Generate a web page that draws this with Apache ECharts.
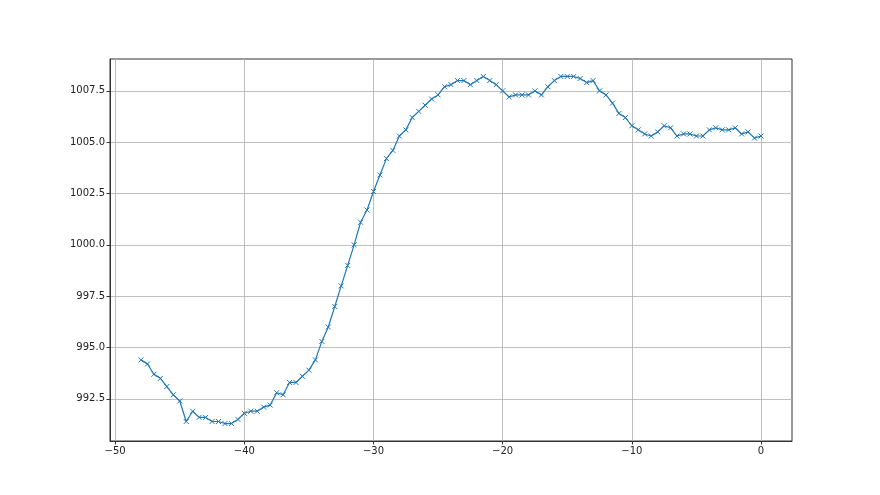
<!DOCTYPE html>
<html><head><meta charset="utf-8">
<script src="https://cdn.jsdelivr.net/npm/echarts@6/dist/echarts.min.js"></script>
<style>html,body{margin:0;padding:0;background:#fff}#c{width:880px;height:495px}</style>
</head><body><div id="c"></div>
<script>
const xValues = [];
for (let i = 0; i <= 96; i++) xValues.push(-48 + i * 0.5);
const yValues = [
994.4,994.2,993.7,993.5,993.1,992.7,992.4,991.4,991.9,991.6,991.6,991.4,991.4,991.3,991.3,991.5,
991.8,991.9,991.9,992.1,992.2,992.8,992.7,993.3,993.3,993.6,993.9,994.4,995.3,996.0,997.0,998.0,
999.0,1000.0,1001.1,1001.7,1002.6,1003.4,1004.2,1004.6,1005.3,1005.6,1006.2,1006.5,1006.8,1007.1,
1007.3,1007.7,1007.8,1008.0,1008.0,1007.8,1008.0,1008.2,1008.0,1007.8,1007.5,1007.2,1007.3,1007.3,
1007.3,1007.5,1007.3,1007.7,1008.0,1008.2,1008.2,1008.2,1008.1,1007.9,1008.0,1007.5,1007.3,1006.9,
1006.4,1006.2,1005.8,1005.6,1005.4,1005.3,1005.5,1005.8,1005.7,1005.3,1005.4,1005.4,1005.3,1005.3,
1005.6,1005.7,1005.6,1005.6,1005.7,1005.4,1005.5,1005.2,1005.3
];
const xTicks = [-50, -40, -30, -20, -10, 0];
const yTicks = [992.5, 995.0, 997.5, 1000.0, 1002.5, 1005.0, 1007.5];

const data = xValues.map((x, i) => [x, yValues[i]]);
const chart = echarts.init(document.getElementById('c'));
const font = {fontFamily: 'DejaVu Sans', fontSize: 10, color: '#222'};
chart.setOption({
  animation: false,
  grid: {left: 110, right: 88, top: 59, bottom: 54, show: true, borderColor: '#333', borderWidth: 1},
  xAxis: {
    type: 'value', min: -50.4, max: 2.4,
    axisLine: {show: true, onZero: false, lineStyle: {color: '#333'}},
    axisTick: {show: true, length: 3.5, customValues: xTicks, lineStyle: {color: '#333'}},
    axisLabel: Object.assign({customValues: xTicks, margin: 5, formatter: v => String(Math.round(v)).replace('-', '\u2212')}, font),
    splitLine: {show: true, lineStyle: {color: '#b0b0b0', width: 0.8}}
  },
  yAxis: {
    type: 'value', min: 990.45, max: 1009.05,
    axisLine: {show: true, onZero: false, lineStyle: {color: '#333'}},
    axisTick: {show: true, length: 3.5, customValues: yTicks, lineStyle: {color: '#333'}},
    axisLabel: Object.assign({customValues: yTicks, margin: 5, formatter: v => v.toFixed(1)}, font),
    splitLine: {show: true, lineStyle: {color: '#b0b0b0', width: 0.8}}
  },
  series: [{
    type: 'line', data: data,
    symbol: 'path://M0,0L10,10M10,0L0,10', symbolSize: 5,
    itemStyle: {color: '#1f77b4', borderColor: '#1f77b4', borderWidth: 1},
    lineStyle: {color: '#1f77b4', width: 1.2},
    showAllSymbol: true
  }]
});
</script></body></html>
